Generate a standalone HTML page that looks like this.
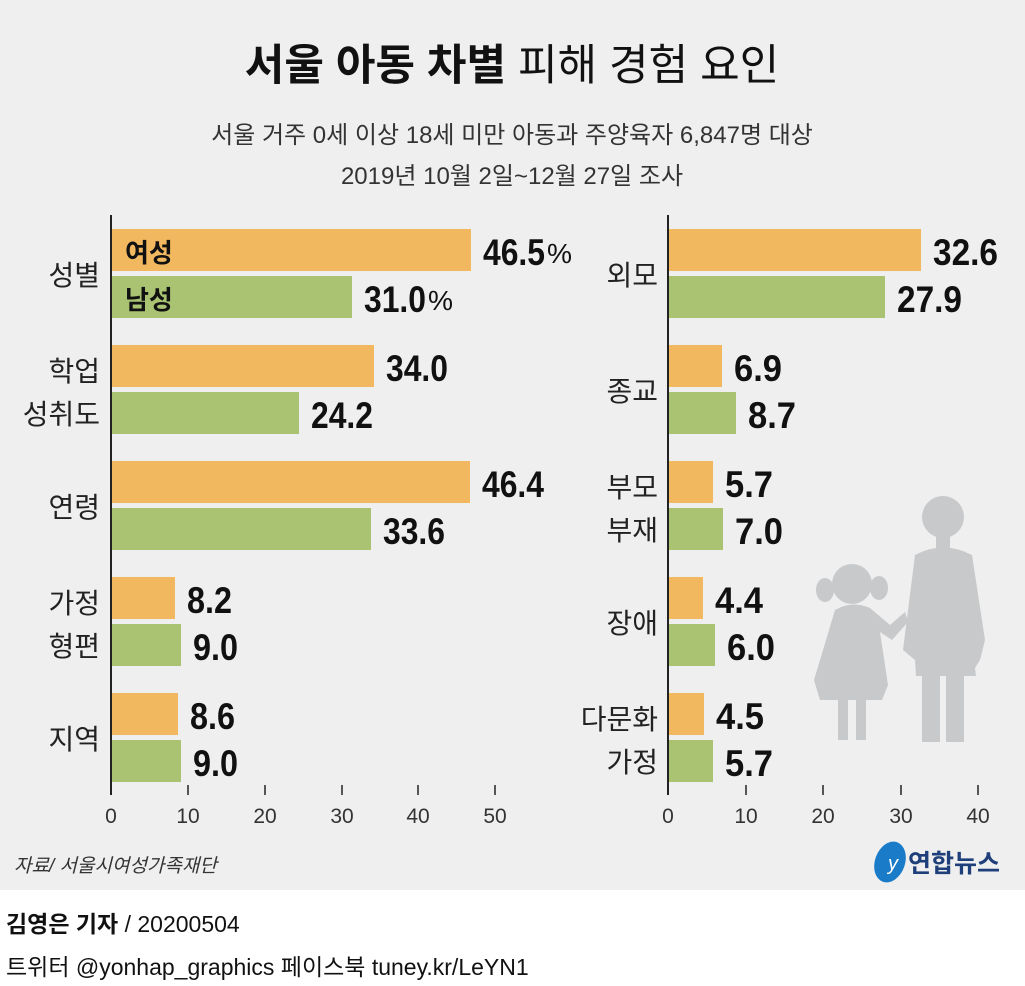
<!DOCTYPE html>
<html><head><meta charset="utf-8"><style>
body{margin:0;width:1025px;height:986px;overflow:hidden;background:#fff}
svg{display:block}
.t{font-family:"Liberation Sans","Noto Sans CJK KR",sans-serif}
.v{font-family:"Liberation Sans","Noto Sans CJK KR",sans-serif;font-size:37px;fill:#111;font-weight:bold}
.p{font-family:"Liberation Sans",sans-serif;font-size:28px;fill:#111}
.c{font-family:"Liberation Sans","Noto Sans CJK KR",sans-serif;font-size:28px;fill:#222;text-anchor:end}
.k{font-family:"Liberation Sans","Noto Sans CJK KR",sans-serif;font-size:21px;fill:#333;text-anchor:middle}
</style></head><body>
<svg width="1025" height="986" xmlns="http://www.w3.org/2000/svg">
<rect width="1025" height="890" fill="#efefef"/>
<text x="512" y="80" class="t" font-size="43" text-anchor="middle" fill="#111"><tspan font-weight="bold">서울 아동 차별</tspan> 피해 경험 요인</text>
<text x="512" y="143" class="t" font-size="24" text-anchor="middle" fill="#333">서울 거주 0세 이상 18세 미만 아동과 주양육자 6,847명 대상</text>
<text x="512" y="184" class="t" font-size="24" text-anchor="middle" fill="#333">2019년 10월 2일~12월 27일 조사</text>

<g fill="#c8c9cb">
<circle cx="943" cy="517" r="21"/><rect x="936" y="535" width="14" height="14"/>
<path d="M915 555 Q943 540 972 555 L985 640 L980 660 L975 668 L976 676 L916 676 L915 660 L903 650 Z"/>
<rect x="922" y="672" width="18" height="70"/><rect x="946" y="672" width="18" height="70"/>
<circle cx="852" cy="584" r="20"/><ellipse cx="825" cy="590" rx="9" ry="12"/><ellipse cx="879" cy="588" rx="9" ry="12"/>
<path d="M835 610 Q852 600 870 608 L890 625 L905 612 L908 622 L892 640 L880 632 L888 685 L882 700 L820 700 L814 680 Z"/>
<rect x="838" y="695" width="10" height="45"/><rect x="856" y="695" width="10" height="45"/>
</g>

<line x1="111" y1="215" x2="111" y2="795" stroke="#222" stroke-width="2"/>
<g stroke="#222" stroke-width="1.5"><line x1="188" y1="785" x2="188" y2="795"/><line x1="265" y1="785" x2="265" y2="795"/><line x1="342" y1="785" x2="342" y2="795"/><line x1="418" y1="785" x2="418" y2="795"/><line x1="495" y1="785" x2="495" y2="795"/></g>
<g class="k"><text x="111" y="823">0</text><text x="188" y="823">10</text><text x="265" y="823">20</text><text x="342" y="823">30</text><text x="418" y="823">40</text><text x="495" y="823">50</text></g>
<g>
<rect x="112" y="229" width="359" height="42" fill="#f1b860"/><rect x="112" y="276" width="240" height="42" fill="#a9c373"/>
<rect x="112" y="345" width="262" height="42" fill="#f1b860"/><rect x="112" y="392" width="187" height="42" fill="#a9c373"/>
<rect x="112" y="461" width="358" height="42" fill="#f1b860"/><rect x="112" y="508" width="259" height="42" fill="#a9c373"/>
<rect x="112" y="577" width="63" height="42" fill="#f1b860"/><rect x="112" y="624" width="69" height="42" fill="#a9c373"/>
<rect x="112" y="693" width="66" height="42" fill="#f1b860"/><rect x="112" y="740" width="69" height="42" fill="#a9c373"/>
</g>
<text x="125" y="262" class="t" font-size="26" font-weight="bold" fill="#111">여성</text>
<text x="125" y="309" class="t" font-size="26" font-weight="bold" fill="#111">남성</text>
<g class="v" lengthAdjust="spacingAndGlyphs">
<text x="483" y="265" textLength="62" lengthAdjust="spacingAndGlyphs">46.5</text><text x="364" y="312" textLength="62" lengthAdjust="spacingAndGlyphs">31.0</text>
<text x="386" y="381" textLength="62" lengthAdjust="spacingAndGlyphs">34.0</text><text x="311" y="428" textLength="62" lengthAdjust="spacingAndGlyphs">24.2</text>
<text x="482" y="497" textLength="62" lengthAdjust="spacingAndGlyphs">46.4</text><text x="383" y="544" textLength="62" lengthAdjust="spacingAndGlyphs">33.6</text>
<text x="187" y="613" textLength="45" lengthAdjust="spacingAndGlyphs">8.2</text><text x="193" y="660" textLength="45" lengthAdjust="spacingAndGlyphs">9.0</text>
<text x="190" y="729" textLength="45" lengthAdjust="spacingAndGlyphs">8.6</text><text x="193" y="776" textLength="45" lengthAdjust="spacingAndGlyphs">9.0</text>
<text x="933" y="265" textLength="65" lengthAdjust="spacingAndGlyphs">32.6</text><text x="897" y="312" textLength="65" lengthAdjust="spacingAndGlyphs">27.9</text>
<text x="734" y="381" textLength="48" lengthAdjust="spacingAndGlyphs">6.9</text><text x="748" y="428" textLength="48" lengthAdjust="spacingAndGlyphs">8.7</text>
<text x="725" y="497" textLength="48" lengthAdjust="spacingAndGlyphs">5.7</text><text x="735" y="544" textLength="48" lengthAdjust="spacingAndGlyphs">7.0</text>
<text x="715" y="613" textLength="48" lengthAdjust="spacingAndGlyphs">4.4</text><text x="727" y="660" textLength="48" lengthAdjust="spacingAndGlyphs">6.0</text>
<text x="716" y="729" textLength="48" lengthAdjust="spacingAndGlyphs">4.5</text><text x="725" y="776" textLength="48" lengthAdjust="spacingAndGlyphs">5.7</text>
</g>
<text x="547" y="263" class="p" textLength="25" lengthAdjust="spacingAndGlyphs">%</text>
<text x="428" y="310" class="p" textLength="25" lengthAdjust="spacingAndGlyphs">%</text>
<g class="c">
<text x="100" y="285">성별</text>
<text x="100" y="381">학업</text><text x="100" y="424">성취도</text>
<text x="100" y="517">연령</text>
<text x="100" y="613">가정</text><text x="100" y="656">형편</text>
<text x="100" y="749">지역</text>
</g>

<line x1="668" y1="215" x2="668" y2="795" stroke="#222" stroke-width="2"/>
<g stroke="#222" stroke-width="1.5"><line x1="746" y1="785" x2="746" y2="795"/><line x1="823" y1="785" x2="823" y2="795"/><line x1="901" y1="785" x2="901" y2="795"/><line x1="978" y1="785" x2="978" y2="795"/></g>
<g class="k"><text x="668" y="823">0</text><text x="746" y="823">10</text><text x="823" y="823">20</text><text x="901" y="823">30</text><text x="978" y="823">40</text></g>
<g>
<rect x="669" y="229" width="252" height="42" fill="#f1b860"/><rect x="669" y="276" width="216" height="42" fill="#a9c373"/>
<rect x="669" y="345" width="53" height="42" fill="#f1b860"/><rect x="669" y="392" width="67" height="42" fill="#a9c373"/>
<rect x="669" y="461" width="44" height="42" fill="#f1b860"/><rect x="669" y="508" width="54" height="42" fill="#a9c373"/>
<rect x="669" y="577" width="34" height="42" fill="#f1b860"/><rect x="669" y="624" width="46" height="42" fill="#a9c373"/>
<rect x="669" y="693" width="35" height="42" fill="#f1b860"/><rect x="669" y="740" width="44" height="42" fill="#a9c373"/>
</g>
<g class="c">
<text x="658" y="285">외모</text>
<text x="658" y="401">종교</text>
<text x="658" y="497">부모</text><text x="658" y="540">부재</text>
<text x="658" y="633">장애</text>
<text x="658" y="729">다문화</text><text x="658" y="772">가정</text>
</g>

<text x="14" y="872" class="t" font-size="19" font-style="italic" fill="#333">자료/ 서울시여성가족재단</text>
<ellipse cx="890" cy="862" rx="15" ry="21" fill="#1a7bc8" transform="rotate(20 890 862)"/>
<text x="893" y="870" class="t" font-size="20" font-style="italic" fill="#fff" text-anchor="middle">y</text>
<text x="908" y="872" class="t" font-size="25" font-weight="bold" fill="#1f3f7a">연합뉴스</text>

<text x="6" y="932" class="t" font-size="23" fill="#111"><tspan font-weight="bold">김영은 기자</tspan> / 20200504</text>
<text x="6" y="975" class="t" font-size="23" fill="#111">트위터 @yonhap_graphics  페이스북 tuney.kr/LeYN1</text>
</svg>
</body></html>
